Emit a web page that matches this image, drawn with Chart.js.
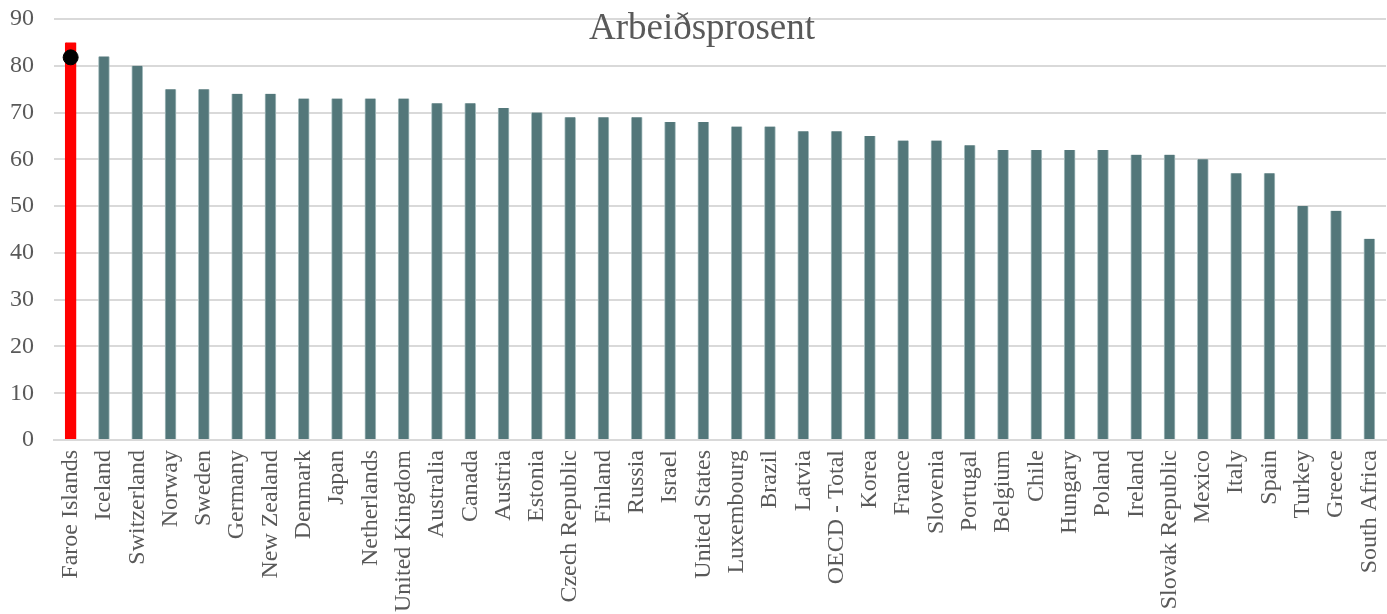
<!DOCTYPE html>
<html>
<head>
<meta charset="utf-8">
<script src="https://cdn.jsdelivr.net/npm/chart.js@4"></script>
<style>
  html, body { margin: 0; padding: 0; background: #fff; }
  #wrap { width: 1387px; height: 614px; position: relative; }
</style>
</head>
<body>
<div id="wrap"><canvas id="chart"></canvas></div>
<script>
// --- Data ---
const countries = ['Faroe Islands', 'Iceland', 'Switzerland', 'Norway', 'Sweden', 'Germany', 'New Zealand',
  'Denmark', 'Japan', 'Netherlands', 'United Kingdom', 'Australia', 'Canada', 'Austria', 'Estonia',
  'Czech Republic', 'Finland', 'Russia', 'Israel', 'United States', 'Luxembourg', 'Brazil', 'Latvia',
  'OECD - Total', 'Korea', 'France', 'Slovenia', 'Portugal', 'Belgium', 'Chile', 'Hungary', 'Poland',
  'Ireland', 'Slovak Republic', 'Mexico', 'Italy', 'Spain', 'Turkey', 'Greece', 'South Africa'];
const employment = [85, 82, 80, 75, 75, 74, 74, 73, 73, 73, 73, 72, 72, 71, 70, 69, 69, 69, 68, 68, 67, 67,
  66, 66, 65, 64, 64, 63, 62, 62, 62, 62, 61, 61, 60, 57, 57, 50, 49, 43];
const faroeMarker = [81.8];
const yTicks = [0, 10, 20, 30, 40, 50, 60, 70, 80, 90];
const chartTitle = 'Arbeiðsprosent';

const FONT = "'Liberation Serif', 'Times New Roman', serif";
const TEXT = '#595959';
const GRID = '#d9d9d9';

const barColors = countries.map((c, i) => i === 0 ? '#ff0000' : '#53777a');
const barBorders = countries.map((c, i) => i === 0 ? '#ff0000' : '#a9bfc0');
const markerData = countries.map((c, i) => i < faroeMarker.length ? faroeMarker[i] : null);

// --- Title drawn over the plot area ---
const titleInside = {
  id: 'titleInside',
  afterDraw(chart) {
    const ctx = chart.ctx;
    ctx.save();
    ctx.font = '37px ' + FONT;
    ctx.fillStyle = TEXT;
    ctx.textAlign = 'center';
    ctx.textBaseline = 'middle';
    ctx.fillText(chartTitle, 702, 29);
    ctx.restore();
  }
};

new Chart(document.getElementById('chart'), {
  data: {
    labels: countries,
    datasets: [
      {
        type: 'line',
        data: markerData,
        showLine: false,
        pointRadius: 7.5,
        pointHoverRadius: 7.5,
        pointBackgroundColor: '#000',
        pointBorderColor: '#000',
        order: 0
      },
      {
        type: 'bar',
        data: employment,
        backgroundColor: barColors,
        borderColor: barBorders,
        borderWidth: { left: 1, right: 1, top: 0, bottom: 0 },
        barThickness: 11,
        order: 1
      }
    ]
  },
  options: {
    responsive: true,
    maintainAspectRatio: false,
    animation: false,
    layout: { autoPadding: false, padding: { top: 19, right: 1, left: 0, bottom: 0 } },
    plugins: {
      legend: { display: false },
      tooltip: { enabled: false },
      title: { display: false }
    },
    scales: {
      x: {
        grid: { display: false, drawTicks: false },
        border: { color: GRID, width: 2 },
        ticks: {
          color: TEXT,
          font: { family: FONT, size: 24 },
          minRotation: 90,
          maxRotation: 90,
          autoSkip: false,
          padding: 10
        },
        afterFit(scale) {
          scale.height = 174;
          scale.paddingLeft = 0;
          scale.paddingRight = 0;
        }
      },
      y: {
        min: 0,
        max: 90,
        afterBuildTicks(scale) { scale.ticks = yTicks.map(v => ({ value: v })); },
        grid: { color: GRID, lineWidth: 2, drawTicks: false },
        border: { display: false },
        ticks: {
          color: TEXT,
          font: { family: FONT, size: 24 },
          padding: 20
        },
        afterFit(scale) {
          scale.width = 54;
          scale.paddingTop = 0;
          scale.paddingBottom = 0;
        }
      }
    }
  },
  plugins: [titleInside]
});
</script>
</body>
</html>
